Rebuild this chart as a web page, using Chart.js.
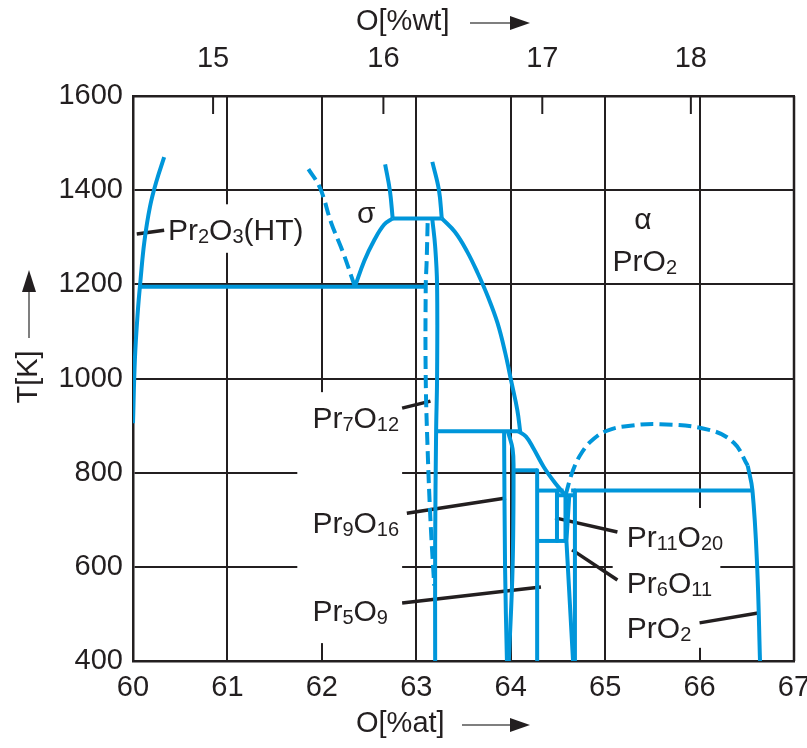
<!DOCTYPE html>
<html>
<head>
<meta charset="utf-8">
<script src="https://cdn.jsdelivr.net/npm/chart.js@4.4.1/dist/chart.umd.min.js"></script>
<style>
  body { margin: 0; background: #fff; }
  canvas { display: block; }
</style>
</head>
<body>
<canvas id="chart" width="807" height="748"></canvas>
<script>
// ---- axes ----
const atTicks = [60, 61, 62, 63, 64, 65, 66, 67];
const wtTicks = [15, 16, 17, 18];
const tTicks = [400, 600, 800, 1000, 1200, 1400, 1600];

// ---- phase boundaries, [O at%, T K] ----
const pr2o3Boundary = [[60.0, 905], [60.02, 1040], [60.05, 1140], [60.08, 1210], [60.12, 1290], [60.18, 1365], [60.25, 1420], [60.33, 1470]];
const eutectoid = [[60.07, 1195], [63.1, 1195]];
const sigmaLower = [[62.35, 1195], [62.45, 1250], [62.55, 1292], [62.66, 1327], [62.75, 1340]];
const sigmaSolvus = [[62.35, 1195], [62.22, 1270], [62.1, 1330], [61.98, 1405], [61.85, 1447]];
const sigmaTop = [[62.75, 1340], [63.27, 1340]];
const sigmaLeftUpper = [[62.75, 1340], [62.72, 1400], [62.67, 1455]];
const sigmaRightUpper = [[63.27, 1340], [63.24, 1400], [63.17, 1460]];
const alphaBoundary = [[63.27, 1340], [63.41, 1311], [63.54, 1269], [63.65, 1224], [63.76, 1173], [63.86, 1118], [63.94, 1056], [64.01, 990], [64.07, 933], [64.1, 888]];
const line888 = [[63.21, 888], [64.08, 888]];
const alphaLower = [[64.08, 888], [64.16, 877], [64.24, 852], [64.35, 812], [64.47, 778], [64.58, 752]];
const pr7o12Solid = [[63.17, 1338], [63.2, 1280], [63.22, 1200], [63.22, 1000], [63.21, 888], [63.2, 650], [63.2, 400]];
const pr7o12Dashed = [[63.12, 1330], [63.11, 1250], [63.1, 1195], [63.1, 1000], [63.12, 850], [63.15, 700], [63.19, 560]];
const pr9o16Left = [[63.93, 888], [63.94, 600], [63.96, 400]];
const pr9o16Right = [[63.97, 888], [64.02, 850], [64.03, 805], [64.02, 600], [63.98, 400]];
const line805 = [[64.03, 805], [64.28, 805]];
const pr5o9 = [[64.28, 805], [64.28, 400]];
const line762a = [[64.28, 762], [64.56, 762]];
const line762b = [[64.64, 762], [66.56, 762]];
const line655 = [[64.28, 655], [64.58, 655]];
const pr11o20Left = [[64.49, 762], [64.49, 655]];
const pr11o20Right = [[64.58, 752], [64.58, 655]];
const pr11o20Top = [[64.49, 752], [64.66, 752]];
const pr6o11Left = [[64.62, 752], [64.59, 655], [64.66, 400]];
const pr6o11Right = [[64.68, 762], [64.68, 400]];
const domeDashed = [[64.58, 752], [64.66, 805], [64.76, 845], [64.88, 872], [65.02, 889], [65.2, 898], [65.58, 903], [66.1, 891], [66.36, 864], [66.51, 815]];
const pro2Boundary = [[66.51, 815], [66.56, 762], [66.61, 600], [66.64, 400]];

// ---- label leaders ----
const leaders = [
  [[60.04, 1307], [60.33, 1315]],
  [[62.85, 937], [63.15, 952]],
  [[62.9, 714], [63.95, 746]],
  [[62.85, 523], [64.32, 557]],
  [[64.47, 704], [65.13, 674]],
  [[64.65, 636], [65.13, 572]],
  [[66.0, 481], [66.62, 502]]
];

// ---- text labels (digits become subscripts) ----
const labels = [
  { text: 'Pr2O3(HT)', x: 60.37, y: 1318, align: 'left' },
  { text: 'σ', x: 62.47, y: 1354, align: 'center' },
  { text: 'α', x: 65.4, y: 1341, align: 'center' },
  { text: 'PrO2', x: 65.42, y: 1252, align: 'center' },
  { text: 'Pr7O12', x: 61.9, y: 918, align: 'left' },
  { text: 'Pr9O16', x: 61.9, y: 695, align: 'left' },
  { text: 'Pr5O9', x: 61.9, y: 508, align: 'left' },
  { text: 'Pr11O20', x: 65.23, y: 665, align: 'left' },
  { text: 'Pr6O11', x: 65.23, y: 568, align: 'left' },
  { text: 'PrO2', x: 65.23, y: 472, align: 'left' }
];
// white areas behind labels that break the grid [x0, x1, T0, T1]
const gapBoxes = [[60.35, 61.87, 1370, 1267], [61.74, 62.85, 971, 438], [65.08, 66.22, 725, 428]];

const BLUE = '#0096da';
const INK = '#231f20';
const FONT = '"Liberation Sans", Arial, sans-serif';

function wtToAt(w) {
  const o = w / 16.0, p = (100 - w) / 140.91;
  return 100 * o / (o + p);
}

const datasets = [];
function addLine(arr, opts) {
  datasets.push(Object.assign({
    data: arr.map(p => ({ x: p[0], y: p[1] })),
    showLine: true, borderColor: BLUE, borderWidth: 4, pointRadius: 0,
    tension: 0, fill: false, borderCapStyle: 'butt', borderJoinStyle: 'round'
  }, opts || {}));
}
const curved = { tension: 0.4 };
const dashed = { tension: 0.4, borderDash: [13, 6] };

addLine(pr2o3Boundary, curved);
addLine(eutectoid);
addLine(sigmaLower, curved);
addLine(sigmaSolvus, dashed);
addLine(sigmaTop);
addLine(sigmaLeftUpper, curved);
addLine(sigmaRightUpper, curved);
addLine(alphaBoundary, curved);
addLine(line888);
addLine(alphaLower, curved);
addLine(pr7o12Solid, curved);
addLine(pr7o12Dashed, dashed);
addLine(pr9o16Left, curved);
addLine(pr9o16Right, curved);
addLine(line805);
addLine(pr5o9);
addLine(line762a);
addLine(line762b);
addLine(line655);
addLine(pr11o20Left);
addLine(pr11o20Right);
addLine(pr11o20Top);
addLine(pr6o11Left);
addLine(pr6o11Right);
addLine(domeDashed, dashed);
addLine(pro2Boundary, curved);
leaders.forEach(l => addLine(l, { borderColor: INK, borderWidth: 3.5 }));

function drawLabel(ctx, lb, px, py) {
  const big = '30px ' + FONT, small = '20px ' + FONT;
  const parts = lb.text.match(/\d+|[^\d]+/g);
  let w = 0;
  parts.forEach(s => { ctx.font = /\d/.test(s) ? small : big; w += ctx.measureText(s).width; });
  let cx = lb.align === 'center' ? px - w / 2 : px;
  const base = py + 11;
  ctx.textAlign = 'left';
  ctx.textBaseline = 'alphabetic';
  parts.forEach(s => {
    const sub = /\d/.test(s);
    ctx.font = sub ? small : big;
    ctx.fillText(s, cx, sub ? base + 3 : base);
    cx += ctx.measureText(s).width;
  });
}

function arrowRight(ctx, x0, x1, y) {
  ctx.strokeStyle = '#555';
  ctx.lineWidth = 1.5;
  ctx.beginPath(); ctx.moveTo(x0, y); ctx.lineTo(x1 - 18, y); ctx.stroke();
  ctx.fillStyle = INK;
  ctx.beginPath(); ctx.moveTo(x1, y); ctx.lineTo(x1 - 20, y - 7); ctx.lineTo(x1 - 20, y + 7); ctx.closePath(); ctx.fill();
}

const annotate = {
  id: 'annotate',
  beforeDatasetsDraw(chart) {
    const { ctx, chartArea: a, scales: { x, y } } = chart;
    ctx.save();
    ctx.fillStyle = '#fff';
    gapBoxes.forEach(b => {
      const x0 = x.getPixelForValue(b[0]), x1 = x.getPixelForValue(b[1]);
      const y0 = y.getPixelForValue(b[2]), y1 = y.getPixelForValue(b[3]);
      ctx.fillRect(x0, y0, x1 - x0, y1 - y0);
    });
    // wt% ticks pointing into the plot
    ctx.strokeStyle = INK;
    ctx.lineWidth = 2;
    wtTicks.forEach(w => {
      const px = x.getPixelForValue(wtToAt(w));
      ctx.beginPath(); ctx.moveTo(px, a.top); ctx.lineTo(px, a.top + 18); ctx.stroke();
    });
    ctx.restore();
  },
  afterDatasetsDraw(chart) {
    const { ctx, chartArea: a, scales: { x, y } } = chart;
    ctx.save();
    // right frame
    ctx.strokeStyle = INK;
    ctx.lineWidth = 2.5;
    ctx.beginPath(); ctx.moveTo(a.right, a.top); ctx.lineTo(a.right, a.bottom); ctx.stroke();

    ctx.fillStyle = INK;
    labels.forEach(lb => drawLabel(ctx, lb, x.getPixelForValue(lb.x), y.getPixelForValue(lb.y)));

    // axis titles
    ctx.font = '29px ' + FONT;
    ctx.textBaseline = 'middle';
    ctx.textAlign = 'left';
    ctx.fillText('O[%at]', 356, 724);
    ctx.fillText('O[%wt]', 356, 22);
    arrowRight(ctx, 462, 530, 725);
    arrowRight(ctx, 470, 530, 23);

    ctx.save();
    ctx.translate(29, 377);
    ctx.rotate(-Math.PI / 2);
    ctx.textAlign = 'center';
    ctx.fillStyle = INK;
    ctx.fillText('T[K]', 0, 0);
    ctx.restore();
    ctx.strokeStyle = '#555';
    ctx.lineWidth = 1.5;
    ctx.beginPath(); ctx.moveTo(29, 338); ctx.lineTo(29, 290); ctx.stroke();
    ctx.fillStyle = INK;
    ctx.beginPath(); ctx.moveTo(29, 270); ctx.lineTo(22, 292); ctx.lineTo(36, 292); ctx.closePath(); ctx.fill();
    ctx.restore();
  }
};

const tickFont = { family: FONT, size: 29 };

new Chart(document.getElementById('chart'), {
  type: 'scatter',
  data: { datasets: datasets },
  options: {
    responsive: false,
    animation: false,
    layout: { padding: { left: 0, right: 13, top: 0, bottom: 0 } },
    plugins: { legend: { display: false }, tooltip: { enabled: false } },
    scales: {
      x: {
        type: 'linear', position: 'bottom', min: atTicks[0], max: atTicks[atTicks.length - 1],
        afterBuildTicks: s => { s.ticks = atTicks.map(v => ({ value: v })); },
        ticks: { font: tickFont, color: INK, padding: 10, maxRotation: 0, callback: v => String(v) },
        grid: { color: INK, lineWidth: 2, drawTicks: false },
        border: { color: INK, width: 2.5 },
        afterFit: s => { s.height = 87; s.paddingLeft = 0; s.paddingRight = 0; }
      },
      x2: {
        type: 'linear', position: 'top', min: atTicks[0], max: atTicks[atTicks.length - 1],
        afterBuildTicks: s => { s.ticks = wtTicks.map(w => ({ value: wtToAt(w) })); },
        ticks: { font: tickFont, color: INK, padding: 20, maxRotation: 0, callback: (v, i) => String(wtTicks[i]) },
        grid: { display: false, drawTicks: false },
        border: { color: INK, width: 2.5 },
        afterFit: s => { s.height = 96; s.paddingLeft = 0; s.paddingRight = 0; }
      },
      y: {
        type: 'linear', min: tTicks[0], max: tTicks[tTicks.length - 1],
        afterBuildTicks: s => { s.ticks = tTicks.map(v => ({ value: v })); },
        ticks: { font: tickFont, color: INK, padding: 10, callback: v => String(v) },
        grid: { color: INK, lineWidth: 2, drawTicks: false },
        border: { color: INK, width: 2.5 },
        afterFit: s => { s.width = 133; s.paddingTop = 0; s.paddingBottom = 0; }
      }
    }
  },
  plugins: [annotate]
});
</script>
</body>
</html>
